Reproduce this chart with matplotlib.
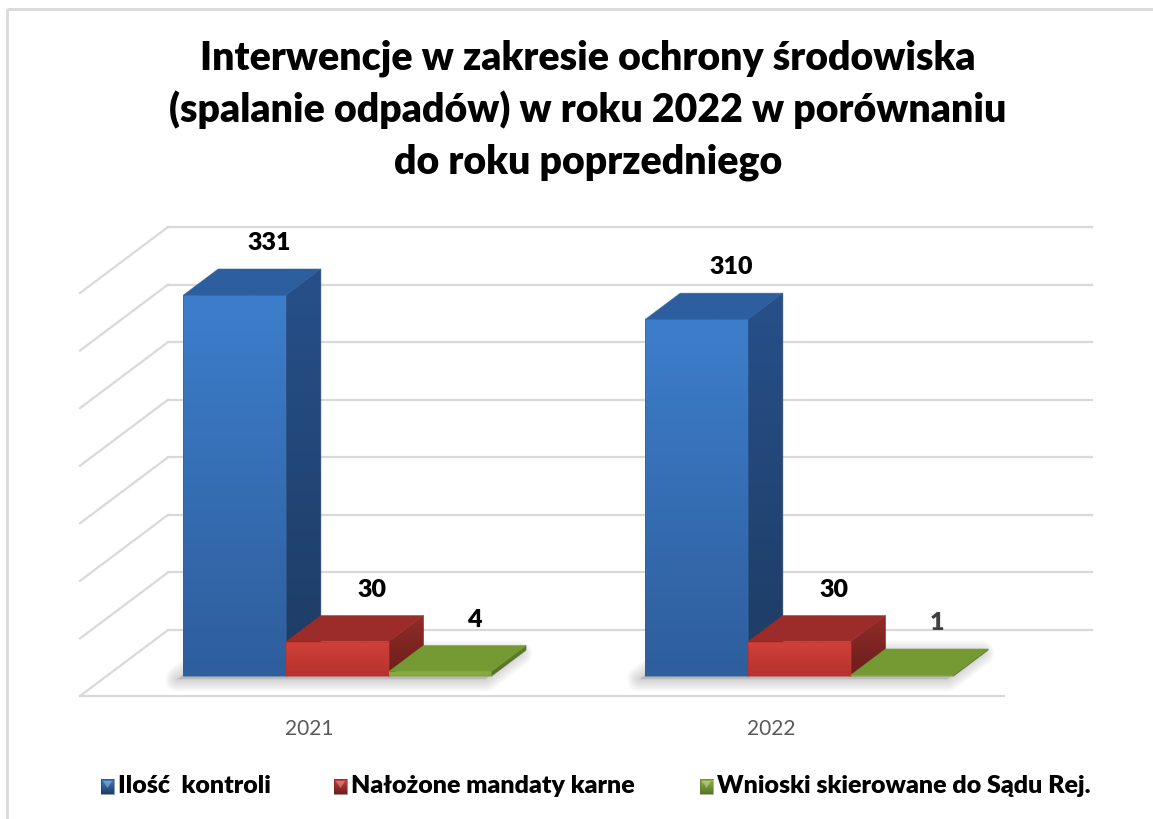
import numpy as np
import matplotlib
matplotlib.use("Agg")
import matplotlib.pyplot as plt
from matplotlib.patches import Polygon
from matplotlib.colors import LinearSegmentedColormap

# ---------------- data ----------------
categories = ["2021", "2022"]
series_names = ["Ilość  kontroli", "Nałożone mandaty karne", "Wnioski skierowane do Sądu Rej."]
ilosc_kontroli = [331, 310]
mandaty_karne = [30, 30]
wnioski_sad = [4, 1]
y_ticks = [0, 50, 100, 150, 200, 250, 300, 350]
title_lines = ["Interwencje w zakresie ochrony środowiska",
               "(spalanie odpadów) w roku 2022 w porównaniu",
               "do roku poprzedniego"]

series_values = [ilosc_kontroli, mandaty_karne, wnioski_sad]

# ---------------- style ----------------
FONT = "Lato"
W, H = 1153, 819
front_cols = [("#3D7ECC", "#2E5E9C"), ("#D2413A", "#B5322E"), ("#93B845", "#7FA23A")]
side_cols = [("#27508A", "#1E3C64"), ("#922C28", "#6A1E1C"), ("#5F7E2A", "#56722A")]
top_cols = ["#2D5F9F", "#9C2C29", "#759A33"]

# plot geometry (pixels)
FX0, FY0 = 80, 696
PW = 924
DX, DY = 88, -66
WALL_H = 403
S = WALL_H / max(y_ticks)
D0, D1 = 0.30, 0.695
GAP = 1.5

fig = plt.figure(figsize=(W / 100, H / 100), dpi=100)
ax = fig.add_axes([0, 0, 1, 1])


def proj(x, d, v):
    return (FX0 + x + d * DX, FY0 + d * DY - v * S)


def grad_poly(pts, c1, c2, z):
    pts = np.asarray(pts)
    poly = Polygon(pts, closed=True, facecolor="none", edgecolor="none", zorder=z)
    ax.add_patch(poly)
    cmap = LinearSegmentedColormap.from_list("g", [c1, c2])
    grad = np.linspace(0, 1, 128)[:, None]
    im = ax.imshow(grad, cmap=cmap, aspect="auto", interpolation="bilinear",
                   extent=(pts[:, 0].min(), pts[:, 0].max(), pts[:, 1].max(), pts[:, 1].min()),
                   zorder=z)
    im.set_clip_path(poly)
    ax.add_patch(Polygon(pts, closed=True, facecolor="none", edgecolor=c2, lw=0.6,
                         alpha=0.6, zorder=z + 0.01))


# chart border
ax.plot([7, W], [9, 9], color="#D9D9D9", lw=2, zorder=0, solid_capstyle="butt")
ax.plot([7, 7], [9, H], color="#D9D9D9", lw=2, zorder=0, solid_capstyle="butt")

# gridlines: back wall + left side wall diagonals
for v in y_ticks:
    xa, ya = proj(0, 1, v)
    xb, yb = proj(PW, 1, v)
    ax.plot([xa, xb], [ya, yb], color="#D9D9D9", lw=1.6, zorder=1)
    xf, yf = proj(0, 0, v)
    ax.plot([xf, xa], [yf, ya], color="#D9D9D9", lw=1.6, zorder=1)
xa, ya = proj(0, 0, 0)
xb, yb = proj(PW, 0, 0)
ax.plot([xa, xb], [ya, yb], color="#D9D9D9", lw=1.6, zorder=1)

n_ser = len(series_values)
cw = PW / len(categories)
bw = cw / (n_ser + GAP)

for i, cat in enumerate(categories):
    x_start = i * cw + GAP / 2 * bw
    sh = np.array([proj(x_start, D0, 0), proj(x_start + n_ser * bw, D0, 0),
                   proj(x_start + n_ser * bw, D1, 0), proj(x_start, D1, 0)])
    sh = sh + np.array([-6, 3])
    for k in range(8, 0, -1):
        ax.add_patch(Polygon(sh, closed=True, facecolor="#808080", edgecolor="#808080",
                             lw=k * 2.2, alpha=0.045, joinstyle="round", zorder=2))
    for j, vals in enumerate(series_values):
        v = vals[i]
        xa = x_start + j * bw
        xb = xa + bw
        z = 3 + j * 0.1
        top = [proj(xa, D0, v), proj(xb, D0, v), proj(xb, D1, v), proj(xa, D1, v)]
        side = [proj(xb, D0, 0), proj(xb, D1, 0), proj(xb, D1, v), proj(xb, D0, v)]
        front = [proj(xa, D0, v), proj(xb, D0, v), proj(xb, D0, 0), proj(xa, D0, 0)]
        grad_poly(side, side_cols[j][0], side_cols[j][1], z)
        grad_poly(top, top_cols[j], top_cols[j], z + 0.02)
        grad_poly(front, front_cols[j][0], front_cols[j][1], z + 0.04)
        lx, ly = proj((xa + xb) / 2, D1, v)
        col = "#404040" if v < 2 else "black"
        ax.text(lx, ly - 26, f"{v}", ha="center", va="center", fontsize=18,
                fontweight="heavy", family=FONT, color=col, zorder=10)
    cx, cy = proj(i * cw + cw / 2, 0, 0)
    ax.text(cx - 2, cy + 33, cat, ha="center", va="center", fontsize=15,
            family=FONT, color="#595959", zorder=10)

# title
for k, line in enumerate(title_lines):
    ax.text(588, 58 + 52 * k, line, ha="center", va="center", fontsize=28.3,
            fontweight="heavy", family=FONT, color="black", zorder=10)

# legend
leg_x = [101, 334, 700]
leg_y = 786
for j, name in enumerate(series_names):
    mx = leg_x[j]
    grad_poly([(mx, leg_y - 7), (mx + 13, leg_y - 7), (mx + 13, leg_y + 8), (mx, leg_y + 8)],
              front_cols[j][0], side_cols[j][1], 10)
    ax.add_patch(Polygon([(mx + 2, leg_y - 5), (mx + 11, leg_y - 5), (mx + 6.5, leg_y + 2)],
                         closed=True, facecolor="white", alpha=0.3, edgecolor="none", zorder=11))
    ax.text(mx + 17, leg_y, name, ha="left", va="center", fontsize=18,
            fontweight="heavy", family=FONT, color="black", zorder=10)

ax.set_xlim(0, W)
ax.set_ylim(H, 0)
ax.axis("off")
fig.savefig("out.png", dpi=100)
